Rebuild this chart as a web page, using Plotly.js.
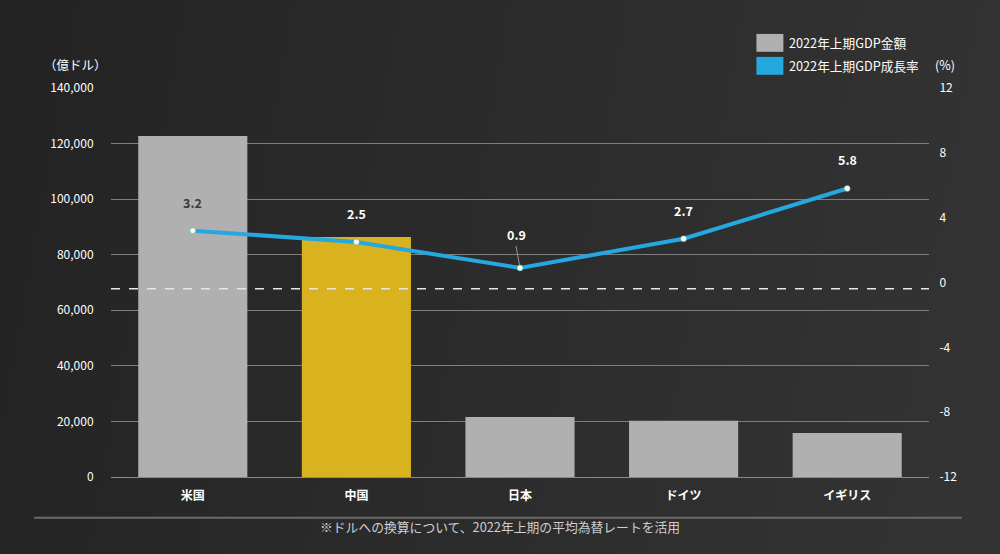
<!DOCTYPE html>
<html><head><meta charset="utf-8">
<script src="https://cdn.plot.ly/plotly-3.0.1.min.js"></script>
<style>
html,body{margin:0;padding:0;width:1000px;height:554px;overflow:hidden;
background:linear-gradient(100deg,#232323 0%,#2b2b2b 45%,#343434 100%);}
#chart{width:1000px;height:554px;}
</style></head><body><div id="chart"></div>
<script>
const categories = ['米国','中国','日本','ドイツ','イギリス'];
const gdpValues = [122700, 86400, 21600, 20200, 15800];
const growthRates = [3.2, 2.5, 0.9, 2.7, 5.8];
const leftTicks = [0,20000,40000,60000,80000,100000,120000,140000];
const leftTickLabels = ['0','20,000','40,000','60,000','80,000','100,000','120,000','140,000'];
const rightTicks = [-12,-8,-4,0,4,8,12];
const rightTickLabels = ['-12','-8','-4','0','4','8','12'];
const seriesNames = ['2022年上期GDP金額','2022年上期GDP成長率'];
const footnote = '※ドルへの換算について、2022年上期の平均為替レートを活用';

const FONT = '"Noto Sans CJK JP", "Noto Sans", sans-serif';
const barColors = categories.map((c,i)=> i===1 ? '#d9b21f' : '#b0b0b0');
const labelColors = categories.map((c,i)=> i===0 ? '#3a3a3a' : '#ffffff');

const bars = {
  type:'bar', x:categories, y:gdpValues, name:seriesNames[0],
  marker:{color:barColors, line:{width:0}}, showlegend:false, hoverinfo:'skip'
};
const line = {
  type:'scatter', mode:'lines+markers', x:categories, y:growthRates, yaxis:'y2',
  name:seriesNames[1], line:{color:'#25a7e0', width:4},
  marker:{color:'#fbfbd8', size:6, line:{color:'#25a7e0', width:0.5}},
  showlegend:false, hoverinfo:'skip'
};

const annotations = growthRates.map((v,i)=>({
  x:categories[i], y:v, xref:'x', yref:'y2', text:v.toFixed(1),
  showarrow:true, arrowhead:0, arrowwidth:1,
  arrowcolor: i===2 ? '#9a9a9a' : 'rgba(0,0,0,0)',
  ax: i===2 ? -4 : 0, ay: i===2 ? -22 : -17, standoff:3,
  yanchor:'bottom',
  font:{family:FONT, size:12.5, color:labelColors[i], weight:'bold'}
}));
annotations.push(
  {xref:'paper', yref:'paper', x:-0.044, y:1.03, xanchor:'center', yanchor:'bottom', showarrow:false,
   text:'（億ドル）', font:{family:FONT, size:12.5, color:'#ffffff'}},
  {xref:'paper', yref:'paper', x:1.02, y:1.03, xanchor:'center', yanchor:'bottom', showarrow:false,
   text:'(%)', font:{family:FONT, size:12.5, color:'#ffffff'}},
  {xref:'paper', yref:'paper', x:0.827, y:1.116, xanchor:'left', yanchor:'middle', showarrow:false,
   text:seriesNames[0], font:{family:FONT, size:12.7, color:'#ffffff'}},
  {xref:'paper', yref:'paper', x:0.827, y:1.057, xanchor:'left', yanchor:'middle', showarrow:false,
   text:seriesNames[1], font:{family:FONT, size:12.7, color:'#ffffff'}},
  {xref:'paper', yref:'paper', x:0.476, y:-0.128, xanchor:'center', yanchor:'middle', showarrow:false,
   text:footnote, font:{family:FONT, size:12.8, color:'#cfcfcf'}}
);

const shapes = [
  {type:'rect', xref:'paper', yref:'paper', x0:0.789, x1:0.822, y0:1.093, y1:1.139,
   fillcolor:'#b0b0b0', line:{width:0}},
  {type:'rect', xref:'paper', yref:'paper', x0:0.789, x1:0.822, y0:1.034, y1:1.080,
   fillcolor:'#25a7e0', line:{width:0}},
  {type:'line', xref:'paper', yref:'paper', x0:0, x1:1, y0:0.484, y1:0.484,
   line:{color:'#e6e6e6', width:1.5, dash:'dash'}},
  {type:'line', xref:'paper', yref:'paper', x0:-0.094, x1:1.04, y0:-0.105, y1:-0.105,
   line:{color:'#6a6a6a', width:2}}
];

const layout = {
  width:1000, height:554,
  margin:{l:111, r:71, t:88, b:77},
  paper_bgcolor:'rgba(0,0,0,0)', plot_bgcolor:'rgba(0,0,0,0)',
  font:{family:FONT, color:'#ffffff', size:12},
  bargap:0.333,
  showlegend:false,
  xaxis:{type:'category', showgrid:false, zeroline:false, showline:true, linecolor:'#8a8a8a', linewidth:1,
    ticks:'outside', ticklen:8, tickcolor:'rgba(0,0,0,0)',
    tickfont:{family:FONT, size:12, color:'#ffffff', weight:'bold'}},
  yaxis:{range:[0,140000], tickvals:leftTicks, ticktext:leftTickLabels,
    showgrid:true, gridcolor:'#7e7e7e', gridwidth:1, zeroline:false, showline:false,
    ticks:'outside', ticklen:14, tickcolor:'rgba(0,0,0,0)',
    tickfont:{family:FONT, size:12, color:'#ffffff'}},
  yaxis2:{overlaying:'y', side:'right', range:[-12,12], tickvals:rightTicks, ticktext:rightTickLabels,
    showgrid:false, zeroline:false, showline:false,
    ticks:'outside', ticklen:7, tickcolor:'rgba(0,0,0,0)',
    tickfont:{family:FONT, size:12, color:'#ffffff'}},
  annotations:annotations, shapes:shapes
};

Plotly.newPlot('chart',[bars,line],layout,{displayModeBar:false, staticPlot:true});
</script></body></html>
